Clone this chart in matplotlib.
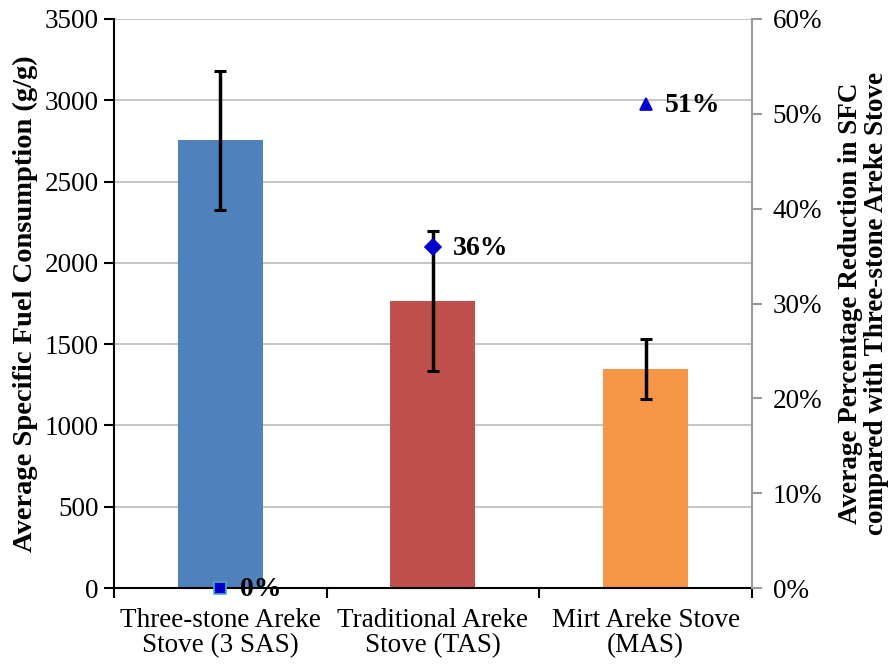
import matplotlib
matplotlib.use("Agg")
import matplotlib.pyplot as plt
from matplotlib.ticker import FixedLocator, PercentFormatter

# data
stoves = ["Three-stone Areke\nStove (3 SAS)", "Traditional Areke\nStove (TAS)",
          "Mirt Areke Stove\n(MAS)"]
sfc = [2755, 1765, 1347]
sfc_err = [428, 432, 185]
reduction = [0, 36, 51]
red_labels = ["0%", "36%", "51%"]
bar_colors = ["#4F81BD", "#C0504D", "#F79646"]
markers = ["s", "D", "^"]

plt.rcParams["font.family"] = ["Liberation Serif", "DejaVu Serif"]

fig = plt.figure(figsize=(8.93, 6.66), dpi=100)
ax = fig.add_axes([0.1277, 0.117, 0.7143, 0.8545])
x = list(range(len(stoves)))

ax.bar(x, sfc, width=0.4, color=bar_colors, zorder=2)
ax.errorbar(x, sfc, yerr=sfc_err, fmt="none", ecolor="black", elinewidth=2.5,
            capsize=4.5, capthick=2.2, zorder=3)

ax.set_xlim(-0.5, 2.5)
ax.set_ylim(0, 3500)
ax.set_yticks(range(0, 3501, 500))
ax.grid(axis="y", color="#c0c0c0", linewidth=1.3, zorder=0)
ax.set_axisbelow(True)

ax.set_xticks(x)
ax.set_xticklabels(stoves, fontsize=19.5, linespacing=1.05)
ax.xaxis.set_minor_locator(FixedLocator([-0.5, 0.5, 1.5, 2.5]))
ax.tick_params(axis="x", which="major", length=0, pad=14)
ax.tick_params(axis="x", which="minor", length=7, width=1.5, direction="out")
ax.tick_params(axis="y", labelsize=19.5, length=7, width=1.5, direction="out", pad=4)
ax.set_ylabel("Average Specific Fuel Consumption (g/g)", fontsize=20.5,
              fontweight="bold", labelpad=5)

for side in ["top", "right"]:
    ax.spines[side].set_visible(False)
ax.spines["left"].set_linewidth(1.5)
ax.spines["bottom"].set_linewidth(1.5)

ax2 = ax.twinx()
ax2.set_ylim(0, 60)
ax2.set_yticks(range(0, 61, 10))
ax2.yaxis.set_major_formatter(PercentFormatter(decimals=0))
ax2.tick_params(axis="y", labelsize=19.5, length=7, width=1.5, color="#999999",
                direction="out", pad=8)
for side in ["top", "left", "bottom"]:
    ax2.spines[side].set_visible(False)
ax2.spines["right"].set_color("#999999")
ax2.spines["right"].set_linewidth(1.5)
ax2.set_ylabel("Average Percentage Reduction in SFC\ncompared with Three-stone Areke Stove",
               fontsize=19.5, fontweight="bold", labelpad=11, linespacing=1.05)

for xi, r, m, lab in zip(x, reduction, markers, red_labels):
    edge = "#4BACC6" if m == "s" else "#0000CC"
    ms = 8 if m == "D" else 9
    ax2.plot(xi, r, marker=m, markersize=ms, color="#0000CC",
             markeredgecolor=edge, markeredgewidth=1.2, linestyle="none",
             clip_on=False, zorder=5)
    ax2.annotate(lab, (xi, r), xytext=(14, -1), textcoords="offset points",
                 ha="left", va="center", fontsize=20, fontweight="bold",
                 annotation_clip=False)

fig.savefig("out.png", dpi=100)
